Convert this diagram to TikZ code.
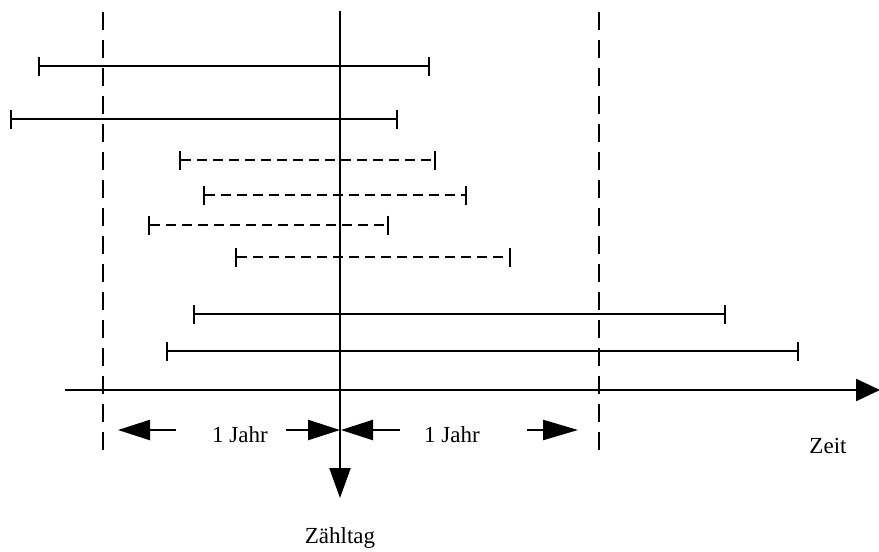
\documentclass[tikz,border=0pt]{standalone}
\usepackage{fontspec}
\setmainfont{Liberation Serif}
\usetikzlibrary{arrows.meta}
\tikzset{
  base line/.style={line width=2.4pt, line cap=butt},
  span/.style={base line, {Bar[width=19pt,line width=2.4pt]}-{Bar[width=19pt,line width=2.4pt]}},
  dspan/.style={span, dash pattern=on 10pt off 6pt},
  yearline/.style={line width=2.4pt, dash pattern=on 18pt off 10pt},
  bigtip/.style={base line, -{Triangle[length=32pt,width=20pt]}},
  lbl/.style={font=\fontsize{23}{26}\selectfont, anchor=base, inner sep=0pt}
}
\begin{document}
\begin{tikzpicture}[x=1pt,y=-1pt]
\useasboundingbox (0,0) rectangle (879,552);

% one-year boundaries and the counting day
\draw[yearline] (103,12) -- (103,458);
\draw[yearline] (599,12) -- (599,458);
\coordinate (dayTop) at (340,11);
\coordinate (dayEnd) at (340,498);
\draw[base line, -{Triangle[length=30pt,width=21pt]}] (dayTop) -- (dayEnd);

% time axis
\coordinate (axisL) at (65,390);
\coordinate (axisR) at (880,390);
\draw[base line, -{Triangle[length=24pt,width=22pt]}] (axisL) -- (axisR);

% intervals
\draw[span]  (38,66)  -- (430,66);
\draw[span]  (10,119) -- (398,119);
\draw[dspan] (179,160) -- (436,160);
\draw[dspan] (203,195) -- (467,195);
\draw[dspan] (148,225) -- (389,225);
\draw[dspan] (235,257) -- (511,257);
\draw[span]  (193,314) -- (726,314);
\draw[span]  (166,351) -- (799,351);

% one-year markers
\coordinate (aL1) at (176,430);
\coordinate (aL1t) at (118,430);
\coordinate (aR1) at (286,430);
\coordinate (aR1t) at (340,430);
\coordinate (aL2) at (400,430);
\coordinate (aL2t) at (341,430);
\coordinate (aR2) at (527,430);
\coordinate (aR2t) at (578,430);
\draw[bigtip] (aL1) -- (aL1t);
\draw[bigtip] (aR1) -- (aR1t);
\draw[bigtip] (aL2) -- (aL2t);
\draw[base line, -{Triangle[length=35pt,width=20pt]}] (aR2) -- (aR2t);

\node[lbl] (j1) at (240,442) {1 Jahr};
\node[lbl] (j2) at (452,442) {1 Jahr};
\node[lbl] (zeit) at (828,453) {Zeit};
\node[lbl] (tag) at (340,543) {Zähltag};
\end{tikzpicture}
\end{document}
